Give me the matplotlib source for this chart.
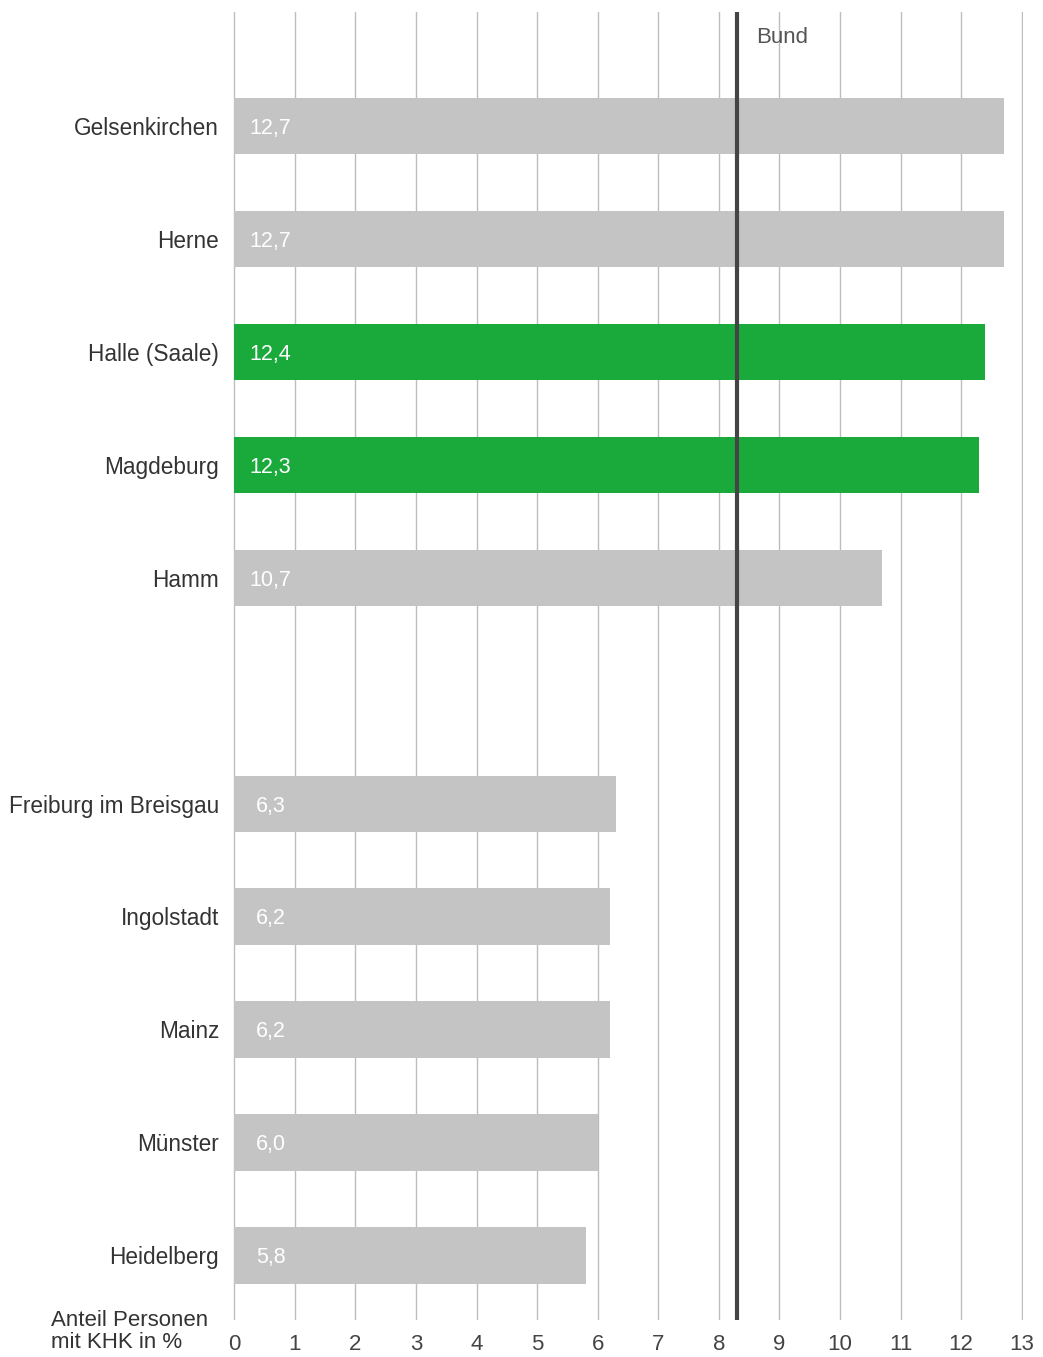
import numpy as np
import matplotlib
matplotlib.use("Agg")
import matplotlib.pyplot as plt

plt.rcParams['font.family'] = ['Liberation Sans', 'DejaVu Sans']

# Data
cities = ["Gelsenkirchen", "Herne", "Halle (Saale)", "Magdeburg", "Hamm",
          "Freiburg im Breisgau", "Ingolstadt", "Mainz", "Münster", "Heidelberg"]
values = [12.7, 12.7, 12.4, 12.3, 10.7, 6.3, 6.2, 6.2, 6.0, 5.8]
highlight = [False, False, True, True, False, False, False, False, False, False]
positions = [0, 1, 2, 3, 4, 6, 7, 8, 9, 10]
bund_value = 8.3
x_ticks = list(range(0, 14))

GRAY = "#c4c4c4"
GREEN = "#1aaa3c"
TEXT = "#333333"

fig = plt.figure(figsize=(10.43, 13.57), dpi=100)
ax = fig.add_axes([0.2234, 0.0273, 0.7574, 0.9639])

colors = [GREEN if h else GRAY for h in highlight]
ax.barh(positions, values, height=0.5, color=colors, zorder=2)

# value labels inside bars
for pos, val in zip(positions, values):
    ax.text(0.6, pos + 0.02, f"{val:.1f}".replace(".", ","), ha='center', va='center',
            color='white', fontsize=15.5, zorder=4)

# city labels
for pos, name in zip(positions, cities):
    ax.text(-0.25, pos + 0.02, name, ha='right', va='center', color=TEXT, fontsize=16.3,
            clip_on=False)

# vertical grid
for t in x_ticks:
    ax.axvline(t, color="#bdbdbd", linewidth=1.0, zorder=1)

# Bund reference line
ax.axvline(bund_value, color="#444444", linewidth=3.0, zorder=3)
ax.text(bund_value + 0.32, -0.78, "Bund", ha='left', va='center', color="#555555", fontsize=16)

ax.set_xlim(-0.02, 13.02)
ax.set_ylim(10.57, -1.01)
ax.set_xticks(x_ticks)
ax.set_xticklabels([str(t) for t in x_ticks], fontsize=16, color="#444444")
ax.tick_params(axis='x', length=0, pad=10)
ax.set_yticks([])
for s in ax.spines.values():
    s.set_visible(False)

fig.text(51 / 1043, 1 - 1320 / 1357, "Anteil Personen", ha='left', va='center',
         color=TEXT, fontsize=16)
fig.text(51 / 1043, 1 - 1343 / 1357, "mit KHK in %", ha='left', va='center',
         color=TEXT, fontsize=16)

fig.savefig("out.png", dpi=100, facecolor="white")
